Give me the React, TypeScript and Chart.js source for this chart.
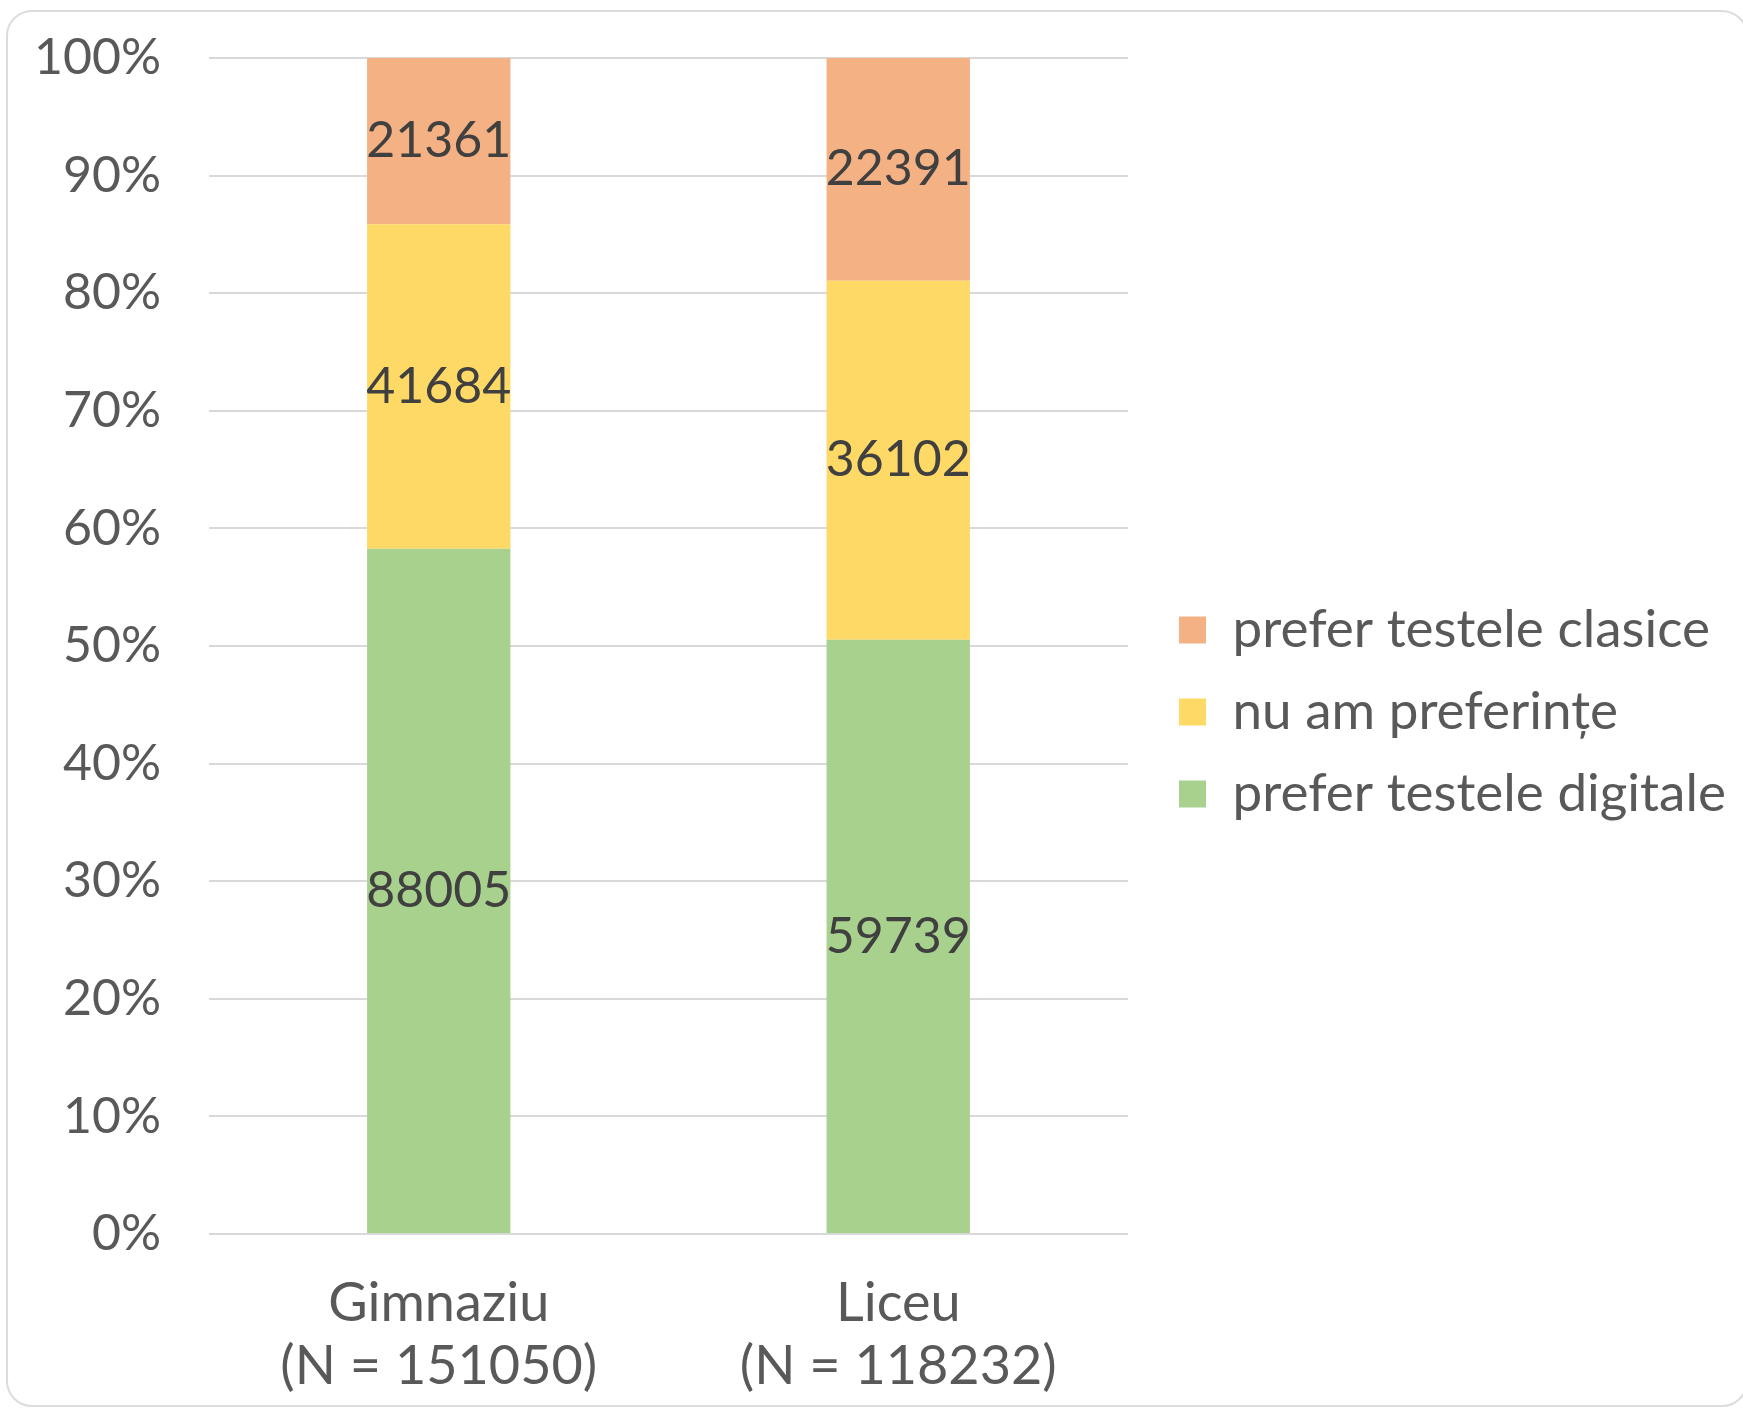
import React, { useEffect, useRef } from "react";
import { Chart, registerables } from "chart.js";

Chart.register(...registerables);

// ---- data ----
const categories: string[][] = [
  ["Gimnaziu", "(N = 151050)"],
  ["Liceu", "(N = 118232)"],
];
const seriesNames = ["prefer testele digitale", "nu am preferințe", "prefer testele clasice"];
const digitale = [88005, 59739];
const nuAm = [41684, 36102];
const clasice = [21361, 22391];
const seriesColors = ["#A9D18E", "#FFD966", "#F4B183"];
const yMax = 100;
const yStep = 10;

const FONT = "Lato, 'Open Sans', sans-serif";
const W = 1743;
const H = 1409;
const PLOT_RIGHT = 1128;
const LEGEND_GAP = 22;
const LEG_SIZE = 53;
const LEG_PAD = 29;
const LEG_BOX = 27;

const totals = digitale.map((v, i) => v + nuAm[i] + clasice[i]);
const pct = (arr: number[]) => arr.map((v, i) => (v / totals[i]) * 100);

const valueLabels = {
  id: "valueLabels",
  afterDatasetsDraw(chart: any) {
    const ctx = chart.ctx;
    ctx.save();
    ctx.font = `50px ${FONT}`;
    ctx.fillStyle = "#404040";
    ctx.textAlign = "center";
    ctx.textBaseline = "middle";
    chart.data.datasets.forEach((ds: any, di: number) => {
      const meta = chart.getDatasetMeta(di);
      meta.data.forEach((el: any, i: number) => {
        const { x, y, base } = el.getProps(["x", "y", "base"], true);
        ctx.fillText(String(ds.counts[i]), x, (y + base) / 2);
      });
    });
    ctx.restore();
  },
};

function legendWidth(): number {
  const c = document.createElement("canvas").getContext("2d")!;
  c.font = `${LEG_SIZE}px ${FONT}`;
  const maxW = Math.max(...seriesNames.map((s) => c.measureText(s).width));
  return LEG_PAD + LEG_BOX + LEG_SIZE / 2 + maxW + 10;
}

export default function App() {
  const ref = useRef<HTMLCanvasElement | null>(null);

  useEffect(() => {
    if (!ref.current) return;
    const counts = [digitale, nuAm, clasice];
    const padRight = Math.max(0, W - PLOT_RIGHT - LEGEND_GAP - legendWidth());
    const chart = new Chart(ref.current, {
      type: "bar",
      data: {
        labels: categories,
        datasets: counts.map((c, i) => ({
          label: seriesNames[i],
          data: pct(c),
          counts: c,
          backgroundColor: seriesColors[i],
          borderWidth: 0,
          categoryPercentage: 0.312,
          barPercentage: 1,
        })) as any,
      },
      options: {
        responsive: false,
        animation: false,
        layout: { padding: { top: 15, bottom: 0, left: 0, right: padRight } },
        plugins: {
          legend: {
            position: "right",
            reverse: true,
            maxWidth: 1000,
            labels: {
              boxWidth: LEG_BOX,
              boxHeight: LEG_BOX,
              padding: LEG_PAD,
              color: "#595959",
              font: { family: FONT, size: LEG_SIZE },
            },
          },
          tooltip: { enabled: false },
        },
        scales: {
          x: {
            stacked: true,
            grid: { display: false },
            border: { display: false },
            ticks: {
              color: "#595959",
              padding: 30,
              font: { family: FONT, size: 54, lineHeight: 1.17 },
            },
            afterFit: (s: any) => {
              s.height = 175;
            },
          },
          topGap: {
            type: "linear",
            position: "top",
            display: true,
            grid: { display: false },
            border: { display: false },
            ticks: { display: false },
            afterFit: (s: any) => {
              s.height = 43;
            },
          },
          y: {
            stacked: true,
            min: 0,
            max: yMax,
            grid: {
              color: "#D9D9D9",
              lineWidth: 2,
              drawTicks: true,
              tickLength: 40,
              tickColor: "rgba(0,0,0,0)",
            },
            border: { display: false },
            ticks: {
              stepSize: yStep,
              color: "#595959",
              padding: 8,
              font: { family: FONT, size: 50 },
              callback: (v: any) => `${v}%`,
            },
            afterFit: (s: any) => {
              s.width = 209;
            },
          },
          gap: {
            type: "linear",
            position: "right",
            display: true,
            grid: { display: false },
            border: { display: false },
            ticks: { display: false },
            afterFit: (s: any) => {
              s.width = LEGEND_GAP;
            },
          },
        } as any,
      },
      plugins: [valueLabels],
    });
    return () => chart.destroy();
  }, []);

  return (
    <div
      style={{
        position: "fixed",
        left: 0,
        top: 0,
        width: W,
        height: H,
        overflow: "hidden",
        background: "#fff",
      }}
    >
      <div
        style={{
          position: "absolute",
          left: 6,
          top: 10,
          width: 1742,
          height: 1397,
          boxSizing: "border-box",
          border: "2px solid #dcdcdc",
          borderRadius: 26,
        }}
      />
      <canvas
        ref={ref}
        width={W}
        height={H}
        style={{ position: "absolute", left: 0, top: 0, width: W, height: H }}
      />
    </div>
  );
}
